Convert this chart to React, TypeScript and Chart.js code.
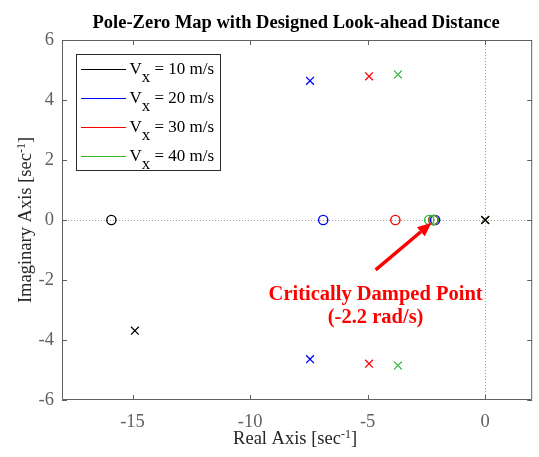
import { useEffect, useRef } from 'react';
import { Chart, registerables } from 'chart.js';

Chart.register(...registerables);

// Longitudinal speeds and their series colours
const speedLabels = ['10', '20', '30', '40'];
const seriesColors = ['#000000', '#0000ff', '#ff0000', '#33b533'];

// Poles (x markers) per speed: real and imaginary parts
const pole10Re = [0, -14.9, -14.9];
const pole10Im = [0, 3.69, -3.69];
const pole20Re = [0, -7.45, -7.45];
const pole20Im = [0, 4.64, -4.64];
const pole30Re = [0, -4.94, -4.94];
const pole30Im = [0, 4.79, -4.79];
const pole40Re = [0, -3.71, -3.71];
const pole40Im = [0, 4.85, -4.85];

// Zeros (o markers) per speed
const zero10Re = [-15.9, -2.2];
const zero10Im = [0, 0];
const zero20Re = [-6.89, -2.13];
const zero20Im = [0, 0];
const zero30Re = [-3.82, -2.2];
const zero30Im = [0, 0];
const zero40Re = [-2.38, -2.19];
const zero40Im = [0, 0];

// Axis ticks
const xTickValues = [-15, -10, -5, 0];
const xTickLabels = ['-15', '-10', '-5', '0'];
const yTickValues = [-6, -4, -2, 0, 2, 4, 6];
const yTickLabels = ['-6', '-4', '-2', '0', '2', '4', '6'];

// Critically damped point annotation
const arrowTail = { x: -4.66, y: -1.66 };
const arrowTip = { x: -2.28, y: -0.09 };
const noteLines = ['Critically Damped Point', '(-2.2 rad/s)'];
const noteAnchorRe = -4.66;
const noteLineIm = [-2.66, -3.43];

const titleText = 'Pole-Zero Map with Designed Look-ahead Distance';

const poleRe = [pole10Re, pole20Re, pole30Re, pole40Re];
const poleIm = [pole10Im, pole20Im, pole30Im, pole40Im];
const zeroRe = [zero10Re, zero20Re, zero30Re, zero40Re];
const zeroIm = [zero10Im, zero20Im, zero30Im, zero40Im];

const SERIF = "'Liberation Serif', 'Times New Roman', serif";
const AXIS_GRAY = '#606060';
const TEXT_DARK = '#262626';
const AXIS_FONT = 18.5;
const LEGEND_FONT = 17;

type TextPart = { text: string; size: number; shift: number };

function toPoints(re: number[], im: number[]) {
  return re.map((r, i) => ({ x: r, y: im[i] }));
}

// Draws a run of text pieces, each with its own size and vertical shift
function drawScripted(ctx: CanvasRenderingContext2D, parts: TextPart[], x: number, y: number) {
  let cx = x;
  for (const p of parts) {
    ctx.font = `${p.size}px ${SERIF}`;
    ctx.fillText(p.text, cx, y + p.shift);
    cx += ctx.measureText(p.text).width;
  }
  return cx - x;
}

function measureScripted(ctx: CanvasRenderingContext2D, parts: TextPart[]) {
  let w = 0;
  for (const p of parts) {
    ctx.font = `${p.size}px ${SERIF}`;
    w += ctx.measureText(p.text).width;
  }
  return w;
}

const decorPlugin = {
  id: 'pzDecor',
  beforeDatasetsDraw(chart: any) {
    const { ctx, chartArea: a, scales } = chart;
    const x0 = Math.round(scales.x.getPixelForValue(0)) + 0.5;
    const y0 = Math.round(scales.y.getPixelForValue(0)) + 0.5;
    ctx.save();
    ctx.strokeStyle = '#a0a0a0';
    ctx.lineWidth = 1;
    ctx.setLineDash([1, 2]);
    ctx.beginPath();
    ctx.moveTo(x0, a.top);
    ctx.lineTo(x0, a.bottom);
    ctx.moveTo(a.left, y0);
    ctx.lineTo(a.right, y0);
    ctx.stroke();
    ctx.restore();
  },
  afterDatasetsDraw(chart: any) {
    const { ctx, chartArea: a, scales } = chart;
    const sx = scales.x;
    const sy = scales.y;
    ctx.save();

    // Axes box with inward ticks on all four sides
    ctx.strokeStyle = AXIS_GRAY;
    ctx.lineWidth = 1;
    ctx.beginPath();
    ctx.rect(a.left + 0.5, a.top + 0.5, a.right - a.left - 1, a.bottom - a.top - 1);
    const tl = 5;
    for (const v of xTickValues) {
      const px = Math.round(sx.getPixelForValue(v)) + 0.5;
      ctx.moveTo(px, a.bottom);
      ctx.lineTo(px, a.bottom - tl);
      ctx.moveTo(px, a.top);
      ctx.lineTo(px, a.top + tl);
    }
    for (const v of yTickValues) {
      const py = Math.round(sy.getPixelForValue(v)) + 0.5;
      ctx.moveTo(a.left, py);
      ctx.lineTo(a.left + tl, py);
      ctx.moveTo(a.right, py);
      ctx.lineTo(a.right - tl, py);
    }
    ctx.stroke();

    // Title
    ctx.fillStyle = '#000000';
    ctx.font = `bold ${AXIS_FONT}px ${SERIF}`;
    ctx.textAlign = 'center';
    ctx.textBaseline = 'alphabetic';
    ctx.fillText(titleText, (a.left + a.right) / 2 - 1, 27.5);

    // Axis titles with superscripted units
    ctx.textAlign = 'left';
    ctx.fillStyle = TEXT_DARK;
    const xParts: TextPart[] = [
      { text: 'Real Axis [sec', size: AXIS_FONT, shift: 0 },
      { text: '-1', size: 12, shift: -6.5 },
      { text: ']', size: AXIS_FONT, shift: 0 },
    ];
    const xw = measureScripted(ctx, xParts);
    drawScripted(ctx, xParts, (a.left + a.right) / 2 - 2 - xw / 2, 444);

    const yParts: TextPart[] = [
      { text: 'Imaginary Axis [sec', size: AXIS_FONT, shift: 0 },
      { text: '-1', size: 12, shift: -6.5 },
      { text: ']', size: AXIS_FONT, shift: 0 },
    ];
    const yw = measureScripted(ctx, yParts);
    ctx.save();
    ctx.translate(31, (a.top + a.bottom) / 2);
    ctx.rotate(-Math.PI / 2);
    drawScripted(ctx, yParts, -yw / 2, 0);
    ctx.restore();

    // Legend box
    const lx = 76.5;
    const ly = 54.5;
    const lw = 144;
    const lh = 116;
    ctx.fillStyle = '#ffffff';
    ctx.fillRect(lx, ly, lw, lh);
    ctx.strokeStyle = '#2a2a2a';
    ctx.lineWidth = 1;
    ctx.strokeRect(lx, ly, lw, lh);
    speedLabels.forEach((s, i) => {
      const rowY = 69.5 + i * 29;
      ctx.strokeStyle = seriesColors[i];
      ctx.lineWidth = 1;
      ctx.beginPath();
      ctx.moveTo(81, rowY);
      ctx.lineTo(126, rowY);
      ctx.stroke();
      ctx.fillStyle = '#000000';
      ctx.textAlign = 'left';
      drawScripted(
        ctx,
        [
          { text: 'V', size: LEGEND_FONT, shift: 0 },
          { text: 'x', size: LEGEND_FONT, shift: 8 },
          { text: ` = ${s} m/s`, size: LEGEND_FONT, shift: 0 },
        ],
        129.5,
        rowY + 4
      );
    });

    // Arrow to the critically damped point
    const tx = sx.getPixelForValue(arrowTail.x);
    const ty = sy.getPixelForValue(arrowTail.y);
    const hx = sx.getPixelForValue(arrowTip.x);
    const hy = sy.getPixelForValue(arrowTip.y);
    const ang = Math.atan2(hy - ty, hx - tx);
    const headLen = 14;
    const headHalf = 6;
    const bx = hx - headLen * Math.cos(ang);
    const by = hy - headLen * Math.sin(ang);
    ctx.strokeStyle = '#ff0000';
    ctx.fillStyle = '#ff0000';
    ctx.lineWidth = 3.5;
    ctx.beginPath();
    ctx.moveTo(tx, ty);
    ctx.lineTo(bx, by);
    ctx.stroke();
    ctx.beginPath();
    ctx.moveTo(hx, hy);
    ctx.lineTo(bx + headHalf * Math.sin(ang), by - headHalf * Math.cos(ang));
    ctx.lineTo(bx - headHalf * Math.sin(ang), by + headHalf * Math.cos(ang));
    ctx.closePath();
    ctx.fill();

    // Annotation text
    ctx.font = `bold 20.5px ${SERIF}`;
    ctx.textAlign = 'center';
    ctx.textBaseline = 'alphabetic';
    const nx = sx.getPixelForValue(noteAnchorRe);
    noteLines.forEach((line, i) => {
      ctx.fillText(line, nx, sy.getPixelForValue(noteLineIm[i]));
    });

    ctx.restore();
  },
};

export default function App() {
  const canvasRef = useRef<HTMLCanvasElement | null>(null);

  useEffect(() => {
    document.body.style.margin = '0';
    const canvas = canvasRef.current;
    if (!canvas) return;

    const datasets: any[] = [];
    speedLabels.forEach((s, i) => {
      datasets.push({
        label: `zeros ${s}`,
        data: toPoints(zeroRe[i], zeroIm[i]),
        pointStyle: 'circle',
        pointRadius: 4.6,
        pointHoverRadius: 4.6,
        pointBorderWidth: 1.4,
        borderColor: seriesColors[i],
        backgroundColor: 'rgba(0,0,0,0)',
        pointBackgroundColor: 'rgba(0,0,0,0)',
        order: 10 - i,
      });
      datasets.push({
        label: `poles ${s}`,
        data: toPoints(poleRe[i], poleIm[i]),
        pointStyle: 'crossRot',
        pointRadius: 5.5,
        pointHoverRadius: 5.5,
        pointBorderWidth: 1.3,
        borderColor: seriesColors[i],
        backgroundColor: seriesColors[i],
        order: i === 0 ? 0 : 20 - i,
      });
    });

    const chart = new Chart(canvas, {
      type: 'scatter',
      data: { datasets },
      options: {
        responsive: false,
        animation: false,
        events: [],
        layout: { padding: { top: 40, right: 6, left: 0, bottom: 0 } },
        plugins: {
          legend: { display: false },
          title: { display: false },
          tooltip: { enabled: false },
        },
        scales: {
          x: {
            type: 'linear',
            min: -18,
            max: 2,
            grid: { display: false, drawTicks: false },
            border: { display: false },
            afterFit: (s: any) => {
              s.height = 57;
            },
            afterBuildTicks: (s: any) => {
              s.ticks = xTickValues.map((v) => ({ value: v }));
            },
            ticks: {
              autoSkip: false,
              maxRotation: 0,
              padding: 11,
              color: AXIS_GRAY,
              font: { family: SERIF, size: AXIS_FONT },
              callback: (_v: any, idx: number) => xTickLabels[idx],
            },
          },
          y: {
            type: 'linear',
            min: -6,
            max: 6,
            grid: { display: false, drawTicks: false },
            border: { display: false },
            afterFit: (s: any) => {
              s.width = 62;
            },
            afterBuildTicks: (s: any) => {
              s.ticks = yTickValues.map((v) => ({ value: v }));
            },
            ticks: {
              autoSkip: false,
              padding: 8,
              color: AXIS_GRAY,
              font: { family: SERIF, size: AXIS_FONT },
              callback: (_v: any, idx: number) => yTickLabels[idx],
            },
          },
        },
      },
      plugins: [decorPlugin],
    });

    return () => {
      chart.destroy();
    };
  }, []);

  return (
    <div style={{ width: 539, height: 457 }}>
      <canvas ref={canvasRef} width={539} height={457} />
    </div>
  );
}
